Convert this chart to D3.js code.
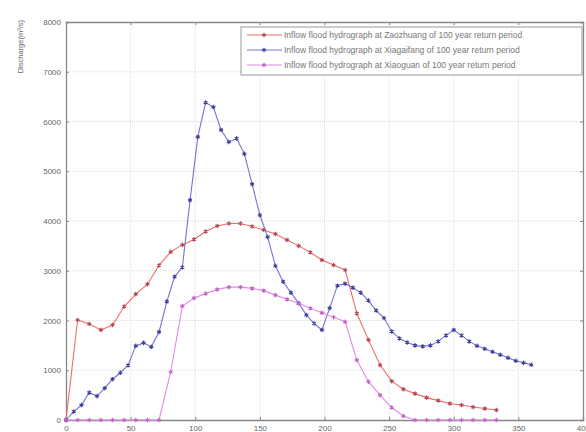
<!DOCTYPE html>
<html>
<head>
<meta charset="utf-8">
<title>Inflow flood hydrographs</title>
<script src="https://cdn.jsdelivr.net/npm/d3@7"></script>
<style>
  body { margin: 0; background: #fff; }
  svg { font-family: "Liberation Sans", Arial, sans-serif; }
  .tick text { fill: #666; font-size: 8px; }
  .grid line { stroke: #dcdcdc; stroke-dasharray: 1,1; }
</style>
</head>
<body>
<div id="chart"></div>
<script>

    // values, x in the chart's own units
    var zaoX = d3.range(0, 334, 9);
    var zaoY = [0, 2010, 1930, 1810, 1910, 2280, 2530, 2730, 3110, 3380,
                3520, 3630, 3790, 3900, 3950, 3950, 3890, 3820, 3740, 3620,
                3500, 3370, 3215, 3115, 3015, 2145, 1610, 1105, 780, 620,
                530, 450, 390, 330, 300, 260, 230, 200];

    var xiaX = d3.range(0, 361, 6);
    var xiaY = [0, 170, 300, 550, 480, 640, 820, 950, 1100, 1490,
                1550, 1470, 1770, 2380, 2880, 3070, 4420, 5690, 6380, 6290,
                5830, 5590, 5660, 5350, 4740, 4120, 3680, 3100, 2780, 2560,
                2350, 2110, 1940, 1810, 2250, 2700, 2740, 2660, 2560, 2400,
                2200, 2050, 1780, 1640, 1560, 1500, 1480, 1500, 1580, 1700,
                1810, 1700, 1580, 1490, 1430, 1370, 1310, 1250, 1190, 1150, 1110];

    var xguX = d3.range(0, 334, 9);
    var xguY = [0, 0, 0, 0, 0, 0, 0, 0, 0, 965,
                2290, 2450, 2540, 2625, 2670, 2670, 2645, 2600, 2510, 2425,
                2345, 2245, 2155, 2065, 1975, 1205, 770, 500, 250, 80,
                0, 0, 0, 0, 0, 0, 0, 0];

    var names = [
        "Inflow flood hydrograph at Zaozhuang of 100 year return period",
        "Inflow flood hydrograph at Xiagaifang of 100 year return period",
        "Inflow flood hydrograph at Xiaoguan of 100 year return period"
    ];
    var lineColors = ["#f26a6a", "#7474d6", "#e488e8"];
    var markColors = ["#b24a55", "#40409a", "#c064c8"];

    var xTicks = d3.range(0, 401, 50);
    var yTicks = d3.range(0, 8001, 1000);

    var series = [
        zaoX.map(function(x, i) { return [x, zaoY[i]]; }),
        xiaX.map(function(x, i) { return [x, xiaY[i]]; }),
        xguX.map(function(x, i) { return [x, xguY[i]]; })
    ];

    var width = 586, height = 432;
    var plotL = 66, plotR = 583, plotT = 22, plotB = 420;

    var svg = d3.select("#chart").append("svg")
        .attr("width", width)
        .attr("height", height);

    var x = d3.scaleLinear().domain([0, 400]).range([plotL, plotR]);
    var y = d3.scaleLinear().domain([0, 8000]).range([plotB, plotT]);

    // grid
    svg.append("g").attr("class", "grid")
        .selectAll("line").data(xTicks.slice(1, -1)).enter().append("line")
        .attr("x1", function(d) { return x(d); }).attr("x2", function(d) { return x(d); })
        .attr("y1", plotT).attr("y2", plotB);
    svg.append("g").attr("class", "grid")
        .selectAll("line").data(yTicks.slice(1, -1)).enter().append("line")
        .attr("y1", function(d) { return y(d); }).attr("y2", function(d) { return y(d); })
        .attr("x1", plotL).attr("x2", plotR);

    // axes, matlab style ticks pointing inward
    svg.append("g")
        .attr("transform", "translate(0," + plotB + ")")
        .call(d3.axisBottom(x).tickValues(xTicks).tickFormat(d3.format("d")).tickSize(-3).tickPadding(5));
    svg.append("g")
        .attr("transform", "translate(" + plotL + ",0)")
        .call(d3.axisLeft(y).tickValues(yTicks).tickFormat(d3.format("d")).tickSize(-3).tickPadding(5));
    svg.append("g")
        .attr("transform", "translate(0," + plotT + ")")
        .call(d3.axisTop(x).tickValues(xTicks).tickSize(-3).tickFormat(""));
    svg.append("g")
        .attr("transform", "translate(" + plotR + ",0)")
        .call(d3.axisRight(y).tickValues(yTicks).tickSize(-3).tickFormat(""));
    svg.selectAll(".domain").attr("stroke", "#888").attr("stroke-width", 1.3);
    svg.selectAll(".tick line").attr("stroke", "#888");

    svg.append("text")
        .attr("transform", "translate(23,20) rotate(-90)")
        .attr("text-anchor", "end")
        .attr("fill", "#666")
        .attr("font-size", 7.5)
        .text("Discharge(m\u00b3/s)");

    // series
    var line = d3.line()
        .x(function(d) { return x(d[0]); })
        .y(function(d) { return y(d[1]); });
    var star = d3.symbol().type(d3.symbolAsterisk).size(14);

    series.forEach(function(data, k) {
        var g = svg.append("g");
        g.append("path")
            .attr("d", line(data))
            .attr("fill", "none")
            .attr("stroke", lineColors[k])
            .attr("stroke-width", 1.1);
        g.selectAll("path.mark").data(data).enter().append("path")
            .attr("class", "mark")
            .attr("transform", function(d) { return "translate(" + x(d[0]) + "," + y(d[1]) + ")"; })
            .attr("d", star)
            .attr("fill", "none")
            .attr("stroke", markColors[k])
            .attr("stroke-width", 1.1);
    });

    // legend
    var legend = svg.append("g").attr("transform", "translate(241,27)");
    legend.append("rect")
        .attr("width", 341).attr("height", 48)
        .attr("fill", "#fff")
        .attr("stroke", "#999");
    names.forEach(function(name, k) {
        var ly = 8 + k * 15;
        legend.append("line")
            .attr("x1", 6).attr("x2", 41).attr("y1", ly).attr("y2", ly)
            .attr("stroke", lineColors[k]).attr("stroke-width", 1.1);
        legend.append("path")
            .attr("transform", "translate(23," + ly + ")")
            .attr("d", star)
            .attr("fill", "none")
            .attr("stroke", markColors[k])
            .attr("stroke-width", 1.1);
        legend.append("text")
            .attr("x", 43).attr("y", ly + 3)
            .attr("fill", "#777")
            .attr("font-size", 8.5)
            .text(name);
    });

</script>
</body>
</html>
